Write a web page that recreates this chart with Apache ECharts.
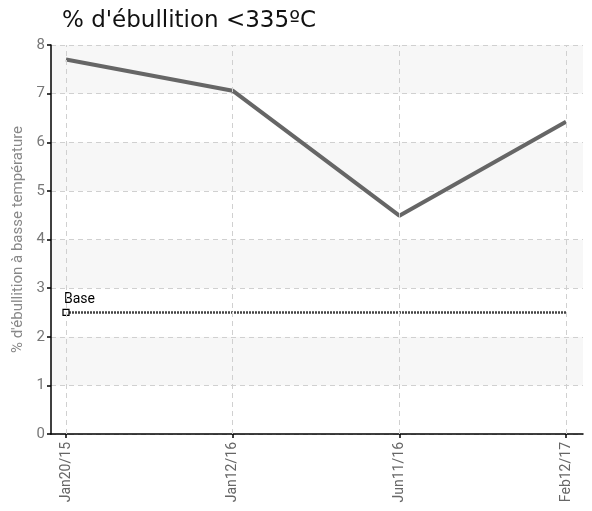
<!DOCTYPE html>
<html>
<head>
<meta charset="utf-8">
<script src="https://cdn.jsdelivr.net/npm/echarts@6/dist/echarts.min.js"></script>
<style>
  html, body { margin: 0; padding: 0; background: #fff; }
  #chart { width: 592px; height: 511px; }
</style>
</head>
<body>
<div id="chart"></div>
<script>
const categories = ['Jan20/15', 'Jan12/16', 'Jun11/16', 'Feb12/17']
const boiling = [7.70, 7.06, 4.49, 6.42]
const baseLine = [2.5, 2.5, 2.5, 2.5]
const yTicks = [0, 1, 2, 3, 4, 5, 6, 7, 8]

const labelFont = "'Roboto', sans-serif"
const idx = categories.map((c, i) => i)

const chart = echarts.init(document.getElementById('chart'))

chart.setOption({
  animation: false,
  title: {
    text: "% d'ébullition <335ºC",
    left: 57,
    top: 5,
    textStyle: { fontFamily: 'DejaVu Sans', fontSize: 23, fontWeight: 'normal', color: '#111' }
  },
  grid: { left: 51, right: 9, top: 45, bottom: 77 },
  xAxis: {
    type: 'value',
    min: -0.09,
    max: 3.102,
    axisLine: { onZero: false, lineStyle: { color: '#000', width: 1.5 } },
    axisTick: { customValues: idx, length: 4, lineStyle: { color: '#000', width: 1.5 } },
    axisLabel: {
      customValues: idx,
      rotate: 90,
      margin: 8,
      color: '#666',
      fontFamily: labelFont,
      fontSize: 14,
      formatter: v => categories[Math.round(v)]
    },
    splitLine: { show: false }
  },
  yAxis: {
    type: 'value',
    min: yTicks[0],
    max: yTicks[yTicks.length - 1],
    interval: 1,
    name: "% d'ébullition à basse température",
    nameLocation: 'middle',
    nameGap: 22,
    nameTextStyle: { color: '#888', fontFamily: labelFont, fontSize: 15 },
    axisLine: { show: true, onZero: false, lineStyle: { color: '#000', width: 1.5 } },
    axisTick: { show: true, length: 4, lineStyle: { color: '#000', width: 1.5 } },
    axisLabel: { color: '#777', fontFamily: labelFont, fontSize: 15, margin: 6 },
    splitLine: { lineStyle: { color: '#d0d0d0', type: [5, 4] } },
    splitArea: { show: true, areaStyle: { color: ['#ffffff', '#f7f7f7'] } }
  },
  series: [
    {
      type: 'line',
      data: [],
      silent: true,
      markLine: {
        silent: true,
        symbol: 'none',
        label: { show: false },
        lineStyle: { color: '#d0d0d0', type: [5, 4], width: 1 },
        data: idx.map(i => ({ xAxis: i }))
      }
    },
    {
      type: 'line',
      data: baseLine.map((v, i) => ({
        value: [i, v],
        symbol: i === 0 ? 'rect' : 'none',
        label: i === 0 ? {
          show: true,
          formatter: 'Base',
          position: 'top',
          align: 'left',
          offset: [-2, 3],
          color: '#000',
          fontFamily: labelFont,
          fontSize: 14
        } : { show: false }
      })),
      symbolSize: 6,
      itemStyle: { color: '#fff', borderColor: '#000', borderWidth: 1.2 },
      lineStyle: { color: '#444', width: 2.5, type: [2, 1] },
      z: 3
    },
    {
      type: 'line',
      data: boiling.map((v, i) => [i, v]),
      symbol: 'none',
      lineStyle: { color: '#666', width: 4 },
      z: 4
    }
  ]
})
</script>
</body>
</html>
